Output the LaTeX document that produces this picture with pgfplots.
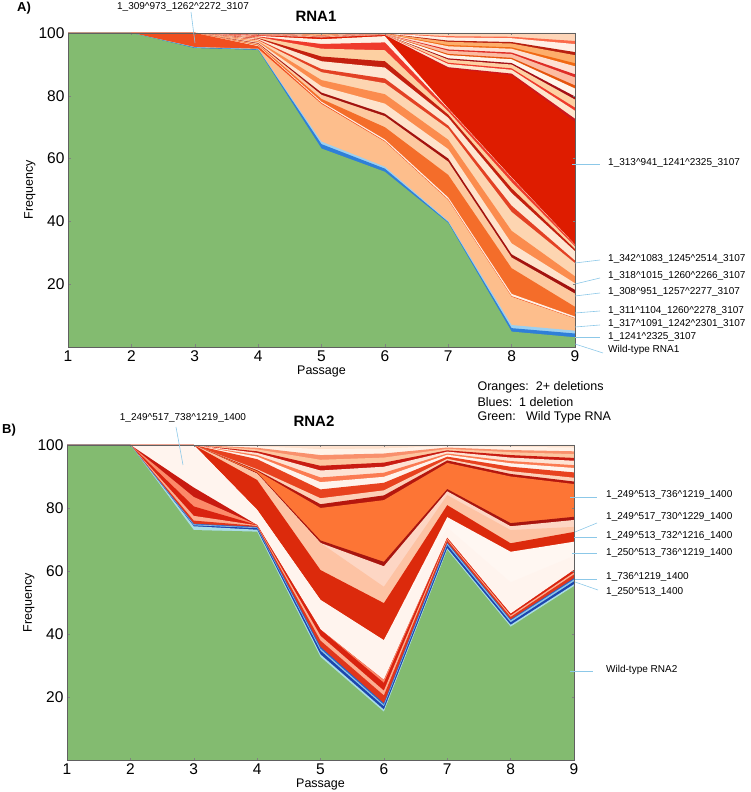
\documentclass[border=0pt]{standalone}
\usepackage{fontspec}
\setmainfont{Liberation Sans}
\usepackage{pgfplots}
\pgfplotsset{compat=1.18}
% colours
\definecolor{wt}{RGB}{131,187,112}
\definecolor{a2}{RGB}{47,127,216}
\definecolor{a3}{RGB}{157,208,240}
\definecolor{a4}{RGB}{253,190,140}
\definecolor{a5}{RGB}{240,78,30}
\definecolor{a6}{RGB}{255,241,230}
\definecolor{a7}{RGB}{244,109,42}
\definecolor{a8}{RGB}{253,201,160}
\definecolor{a9}{RGB}{163,19,15}
\definecolor{a10}{RGB}{254,227,204}
\definecolor{a11}{RGB}{251,140,78}
\definecolor{a12}{RGB}{253,213,177}
\definecolor{a13}{RGB}{227,65,36}
\definecolor{a14}{RGB}{254,230,210}
\definecolor{a15}{RGB}{196,32,15}
\definecolor{a16}{RGB}{253,208,162}
\definecolor{a17}{RGB}{239,59,44}
\definecolor{a18}{RGB}{255,240,228}
\definecolor{a19}{RGB}{222,28,0}
% top fan of RNA1 (r = thin red, l = light)
\definecolor{r1}{RGB}{203,24,29}
\definecolor{l1}{RGB}{254,230,206}
\definecolor{r2}{RGB}{239,59,44}
\definecolor{l2}{RGB}{253,208,162}
\definecolor{r3}{RGB}{165,15,21}
\definecolor{l3}{RGB}{255,245,235}
\definecolor{r4}{RGB}{230,85,13}
\definecolor{l4}{RGB}{252,187,161}
\definecolor{r5}{RGB}{222,45,38}
\definecolor{l5}{RGB}{254,224,210}
\definecolor{r6}{RGB}{241,105,19}
\definecolor{l6}{RGB}{253,174,107}
\definecolor{r7}{RGB}{184,32,15}
\definecolor{l7}{RGB}{255,240,230}
\definecolor{r8}{RGB}{251,106,74}
\definecolor{l8}{RGB}{253,213,184}
% RNA2
\definecolor{b2}{RGB}{169,221,230}
\definecolor{b3}{RGB}{28,70,174}
\definecolor{b4}{RGB}{140,196,232}
\definecolor{b5}{RGB}{42,100,200}
\definecolor{b6}{RGB}{224,54,27}
\definecolor{b7}{RGB}{252,174,145}
\definecolor{b8}{RGB}{217,35,15}
\definecolor{b9}{RGB}{252,138,106}
\definecolor{b10}{RGB}{200,26,16}
\definecolor{b11}{RGB}{255,244,238}
\definecolor{b12}{RGB}{255,247,242}
\definecolor{b13}{RGB}{220,42,12}
\definecolor{b14}{RGB}{253,195,164}
\definecolor{b15}{RGB}{253,214,196}
\definecolor{b16}{RGB}{168,21,15}
\definecolor{b17}{RGB}{253,117,53}
\definecolor{b18}{RGB}{181,23,14}
\definecolor{t1}{RGB}{253,208,184}
\definecolor{t2}{RGB}{232,66,31}
\definecolor{t3}{RGB}{255,243,236}
\definecolor{t4}{RGB}{251,123,82}
\definecolor{t5}{RGB}{254,227,212}
\definecolor{t6}{RGB}{201,28,18}
\definecolor{t7}{RGB}{253,198,160}
\definecolor{t8}{RGB}{249,144,108}
\definecolor{t9}{RGB}{255,242,232}
\definecolor{t10}{RGB}{253,224,204}
\definecolor{pointer}{RGB}{140,200,232}
\newcommand{\ca}{\textasciicircum}
\newcommand{\lab}{\fontsize{10}{12}\selectfont}
\pgfplotsset{rnaax/.style={
  scale only axis, width=507pt, anchor=south west,
  xmin=1, xmax=9, ymin=0, ymax=100,
  xtick={1,...,9}, ytick={20,40,60,80,100},
  axis line style={draw=gray!75!black, line width=0.5pt},
  tick style={draw=gray, line width=0.4pt}, major tick length=2.5pt, tick align=inside,
  ticklabel style={font=\fontsize{15.5}{17}\selectfont},
  /pgf/number format/assume math mode=true,
  xlabel=Passage, ylabel=Frequency,
  label style={font=\fontsize{12.5}{14}\selectfont},
  xlabel style={at={(axis description cs:0.5,-0.078)}, anchor=center},
  ylabel style={at={(axis description cs:-0.075,0.5)}, anchor=center},
  axis on top,
  ly/.style={fill=##1, draw=none, mark=none},
}}
\begin{document}
\begin{tikzpicture}
\path[use as bounding box] (0pt,0pt) rectangle (750pt,792pt);
% ---------------- Panel A : RNA1 ----------------
\begin{axis}[rnaax, at={(68pt,445pt)}, height=314pt]
\addplot[ly=l8] coordinates {(1,100)(2,100)(3,100)(4,100)(5,100)(6,100)(7,100)(8,100)(9,100)} \closedcycle;
\addplot[ly=r8] coordinates {(1,100)(2,100)(3,100)(4,99.93)(5,99.87)(6,99.94)(7,98.98)(8,98.79)(9,97.45)} \closedcycle;
\addplot[ly=l7] coordinates {(1,100)(2,100)(3,100)(4,99.9)(5,99.81)(6,99.91)(7,98.59)(8,98.33)(9,96.46)} \closedcycle;
\addplot[ly=r7] coordinates {(1,100)(2,100)(3,100)(4,99.83)(5,99.68)(6,99.85)(7,97.57)(8,97.12)(9,93.92)} \closedcycle;
\addplot[ly=l6] coordinates {(1,100)(2,100)(3,100)(4,99.8)(5,99.63)(6,99.83)(7,97.18)(8,96.65)(9,92.93)} \closedcycle;
\addplot[ly=r6] coordinates {(1,100)(2,100)(3,100)(4,99.73)(5,99.49)(6,99.76)(7,96.16)(8,95.44)(9,90.38)} \closedcycle;
\addplot[ly=l5] coordinates {(1,100)(2,100)(3,100)(4,99.7)(5,99.44)(6,99.74)(7,95.76)(8,94.98)(9,89.39)} \closedcycle;
\addplot[ly=r5] coordinates {(1,100)(2,100)(3,100)(4,99.63)(5,99.3)(6,99.67)(7,94.75)(8,93.77)(9,86.84)} \closedcycle;
\addplot[ly=l4] coordinates {(1,100)(2,100)(3,100)(4,99.6)(5,99.25)(6,99.65)(7,94.35)(8,93.3)(9,85.85)} \closedcycle;
\addplot[ly=r4] coordinates {(1,100)(2,100)(3,100)(4,99.53)(5,99.12)(6,99.59)(7,93.33)(8,92.09)(9,83.3)} \closedcycle;
\addplot[ly=l3] coordinates {(1,100)(2,100)(3,100)(4,99.5)(5,99.06)(6,99.56)(7,92.94)(8,91.63)(9,82.31)} \closedcycle;
\addplot[ly=r3] coordinates {(1,100)(2,100)(3,100)(4,99.43)(5,98.93)(6,99.5)(7,91.92)(8,90.42)(9,79.77)} \closedcycle;
\addplot[ly=l2] coordinates {(1,100)(2,100)(3,100)(4,99.4)(5,98.88)(6,99.48)(7,91.53)(8,89.95)(9,78.78)} \closedcycle;
\addplot[ly=r2] coordinates {(1,100)(2,100)(3,100)(4,99.33)(5,98.74)(6,99.41)(7,90.51)(8,88.74)(9,76.23)} \closedcycle;
\addplot[ly=l1] coordinates {(1,100)(2,100)(3,100)(4,99.3)(5,98.69)(6,99.39)(7,90.11)(8,88.28)(9,75.24)} \closedcycle;
\addplot[ly=r1] coordinates {(1,100)(2,100)(3,100)(4,99.23)(5,98.55)(6,99.32)(7,89.1)(8,87.07)(9,72.69)} \closedcycle;
\addplot[ly=a19] coordinates {(1,100)(2,100)(3,100)(4,99.2)(5,98.5)(6,99.3)(7,88.7)(8,86.6)(9,71.7)} \closedcycle;
\addplot[ly=a18] coordinates {(1,100)(2,100)(3,100)(4,99.1)(5,98.0)(6,99.0)(7,76.0)(8,54.0)(9,32.6)} \closedcycle;
\addplot[ly=a17] coordinates {(1,100)(2,100)(3,100)(4,98.9)(5,96.5)(6,97.0)(7,75.8)(8,53.8)(9,32.5)} \closedcycle;
\addplot[ly=a16] coordinates {(1,100)(2,100)(3,100)(4,98.7)(5,95.0)(6,94.5)(7,75.0)(8,52.5)(9,32.0)} \closedcycle;
\addplot[ly=a15] coordinates {(1,100)(2,100)(3,100)(4,98.4)(5,92.5)(6,91.0)(7,74.0)(8,50.5)(9,31.2)} \closedcycle;
\addplot[ly=a14] coordinates {(1,100)(2,100)(3,100)(4,98.2)(5,91.0)(6,89.0)(7,73.0)(8,49.0)(9,30.5)} \closedcycle;
\addplot[ly=a13] coordinates {(1,100)(2,100)(3,100)(4,97.9)(5,88.5)(6,85.5)(7,70.5)(8,45.0)(9,27.5)} \closedcycle;
\addplot[ly=a12] coordinates {(1,100)(2,100)(3,100)(4,97.7)(5,87.5)(6,84.0)(7,69.5)(8,43.0)(9,26.7)} \closedcycle;
\addplot[ly=a11] coordinates {(1,100)(2,100)(3,100)(4,97.4)(5,85.0)(6,80.5)(7,66.0)(8,37.0)(9,22.5)} \closedcycle;
\addplot[ly=a10] coordinates {(1,100)(2,100)(3,100)(4,97.1)(5,83.0)(6,77.5)(7,63.0)(8,33.0)(9,20.3)} \closedcycle;
\addplot[ly=a9] coordinates {(1,100)(2,100)(3,100)(4,96.8)(5,81.0)(6,74.3)(7,60.0)(8,29.5)(9,18.2)} \closedcycle;
\addplot[ly=a8] coordinates {(1,100)(2,100)(3,100)(4,96.6)(5,80.3)(6,73.5)(7,59.0)(8,28.5)(9,17.0)} \closedcycle;
\addplot[ly=a7] coordinates {(1,100)(2,100)(3,100)(4,96.3)(5,79.0)(6,70.0)(7,54.8)(8,25.1)(9,12.8)} \closedcycle;
\addplot[ly=a6] coordinates {(1,100)(2,100)(3,100)(4,96.0)(5,78.1)(6,66.1)(7,47.6)(8,16.9)(9,9.7)} \closedcycle;
\addplot[ly=a5] coordinates {(1,100)(2,100)(3,100)(4,95.8)(5,77.7)(6,65.6)(7,47.0)(8,16.2)(9,9.2)} \closedcycle;
\addplot[ly=a4] coordinates {(1,100)(2,100)(3,95.5)(4,95.0)(5,77.4)(6,65.4)(7,46.8)(8,16.0)(9,9.1)} \closedcycle;
\addplot[ly=a3] coordinates {(1,100)(2,100)(3,95.5)(4,94.9)(5,65.4)(6,57.4)(7,40.1)(8,7.0)(9,5.2)} \closedcycle;
\addplot[ly=a2] coordinates {(1,100)(2,100)(3,95.4)(4,94.8)(5,64.6)(6,56.8)(7,39.8)(8,6.0)(9,4.3)} \closedcycle;
\addplot[ly=wt] coordinates {(1,100)(2,100)(3,95.2)(4,94.6)(5,63.2)(6,55.8)(7,39.5)(8,4.9)(9,3.1)} \closedcycle;
\end{axis}
% ---------------- Panel B : RNA2 ----------------
\begin{axis}[rnaax, at={(67pt,32pt)}, height=315pt]
\addplot[ly=t10] coordinates {(1,100)(2,100)(3,100)(4,100)(5,100)(6,100)(7,100)(8,100)(9,100)} \closedcycle;
\addplot[ly=t9] coordinates {(1,100)(2,100)(3,100)(4,99.6)(5,98.7)(6,98.9)(7,99.7)(8,99.4)(9,99.2)} \closedcycle;
\addplot[ly=t8] coordinates {(1,100)(2,100)(3,100)(4,99.1)(5,96.8)(6,97.3)(7,99.2)(8,98.4)(9,98.0)} \closedcycle;
\addplot[ly=t7] coordinates {(1,100)(2,100)(3,100)(4,98.6)(5,95.3)(6,96.0)(7,98.8)(8,97.7)(9,97.1)} \closedcycle;
\addplot[ly=t6] coordinates {(1,100)(2,100)(3,100)(4,98.0)(5,93.4)(6,94.4)(7,98.3)(8,96.8)(9,95.9)} \closedcycle;
\addplot[ly=t5] coordinates {(1,100)(2,100)(3,100)(4,97.5)(5,91.9)(6,93.1)(7,97.9)(8,96.0)(9,95.0)} \closedcycle;
\addplot[ly=t4] coordinates {(1,100)(2,100)(3,100)(4,96.8)(5,89.7)(6,91.2)(7,97.3)(8,94.9)(9,93.6)} \closedcycle;
\addplot[ly=t3] coordinates {(1,100)(2,100)(3,100)(4,96.3)(5,88.2)(6,89.9)(7,96.9)(8,94.2)(9,92.7)} \closedcycle;
\addplot[ly=t2] coordinates {(1,100)(2,100)(3,100)(4,95.5)(5,85.9)(6,88.0)(7,96.3)(8,93.1)(9,91.3)} \closedcycle;
\addplot[ly=t1] coordinates {(1,100)(2,100)(3,100)(4,92.3)(5,83.1)(6,85.6)(7,95.6)(8,91.7)(9,89.6)} \closedcycle;
\addplot[ly=b18] coordinates {(1,100)(2,100)(3,100)(4,92.0)(5,81.2)(6,84.0)(7,95.1)(8,90.8)(9,88.4)} \closedcycle;
\addplot[ly=b17] coordinates {(1,100)(2,100)(3,100)(4,91.7)(5,80.0)(6,82.5)(7,94.3)(8,90.0)(9,87.6)} \closedcycle;
\addplot[ly=b16] coordinates {(1,100)(2,100)(3,100)(4,91.2)(5,69.7)(6,62.9)(7,86.0)(8,75.2)(9,77.2)} \closedcycle;
\addplot[ly=b15] coordinates {(1,100)(2,100)(3,100)(4,90.9)(5,68.9)(6,61.5)(7,85.3)(8,74.2)(9,76.2)} \closedcycle;
\addplot[ly=b14] coordinates {(1,100)(2,100)(3,100)(4,90.9)(5,68.9)(6,55.0)(7,84.1)(8,73.0)(9,74.0)} \closedcycle;
\addplot[ly=b13] coordinates {(1,100)(2,100)(3,100)(4,88.9)(5,60.3)(6,49.8)(7,80.9)(8,68.8)(9,72.4)} \closedcycle;
\addplot[ly=b12] coordinates {(1,100)(2,100)(3,100)(4,79.4)(5,50.8)(6,38.0)(7,77.1)(8,66.1)(9,69.3)} \closedcycle;
\addplot[ly=b11] coordinates {(1,100)(2,100)(3,100)(4,79.4)(5,50.8)(6,38.0)(7,73.8)(8,56.4)(9,64.8)} \closedcycle;
\addplot[ly=b10] coordinates {(1,100)(2,100)(3,86.5)(4,74.6)(5,41.4)(6,25.4)(7,70.5)(8,46.4)(9,60.3)} \closedcycle;
\addplot[ly=b9] coordinates {(1,100)(2,100)(3,83.5)(4,74.6)(5,41.4)(6,25.4)(7,70.5)(8,46.4)(9,60.3)} \closedcycle;
\addplot[ly=b8] coordinates {(1,100)(2,100)(3,80.5)(4,74.6)(5,41.4)(6,24.5)(7,70.5)(8,46.4)(9,60.3)} \closedcycle;
\addplot[ly=b7] coordinates {(1,100)(2,100)(3,77.5)(4,74.5)(5,39.4)(6,22.0)(7,70.2)(8,45.9)(9,59.5)} \closedcycle;
\addplot[ly=b6] coordinates {(1,100)(2,100)(3,76.0)(4,74.3)(5,37.9)(6,20.5)(7,69.8)(8,45.4)(9,58.9)} \closedcycle;
\addplot[ly=b5] coordinates {(1,100)(2,100)(3,75.0)(4,74.0)(5,35.9)(6,18.0)(7,69.0)(8,44.6)(9,57.7)} \closedcycle;
\addplot[ly=b4] coordinates {(1,100)(2,100)(3,74.8)(4,73.8)(5,35.3)(6,17.5)(7,68.7)(8,44.3)(9,57.3)} \closedcycle;
\addplot[ly=b3] coordinates {(1,100)(2,100)(3,74.5)(4,73.6)(5,34.7)(6,17.0)(7,68.2)(8,43.7)(9,56.7)} \closedcycle;
\addplot[ly=b2] coordinates {(1,100)(2,100)(3,74.2)(4,73.1)(5,33.5)(6,16.0)(7,67.2)(8,42.9)(9,55.8)} \closedcycle;
\addplot[ly=wt] coordinates {(1,100)(2,100)(3,73.0)(4,72.5)(5,32.7)(6,15.3)(7,66.7)(8,42.3)(9,55.2)} \closedcycle;
\end{axis}
% ---------------- annotations ----------------
\node[font=\bfseries\fontsize{13}{15}\selectfont] at (24pt,784pt) {A)};
\node[font=\bfseries\fontsize{15}{17}\selectfont] at (316pt,776pt) {RNA1};
\node[font=\lab] at (183pt,785pt) {1\_309\ca 973\_1262\ca 2272\_3107};
\draw[pointer, line width=0.6pt] (191pt,780pt) -- (195pt,749pt);
\node[font=\bfseries\fontsize{13}{15}\selectfont] at (9pt,362pt) {B)};
\node[font=\bfseries\fontsize{15}{17}\selectfont] at (314pt,371pt) {RNA2};
\node[font=\lab] at (183pt,374pt) {1\_249\ca 517\_738\ca 1219\_1400};
\draw[pointer, line width=0.6pt] (176pt,365pt) -- (183pt,327pt);
% legend text
\node[font=\fontsize{12.5}{15}\selectfont, anchor=west] at (474pt,405pt) {Oranges:\ \ 2+ deletions};
\node[font=\fontsize{12.5}{15}\selectfont, anchor=west] at (474pt,390pt) {Blues:\ \ 1 deletion};
\node[font=\fontsize{12.5}{15}\selectfont, anchor=west] at (474pt,375pt) {Green:\ \ \ Wild Type RNA};
% right labels
\begin{scope}[every node/.style={font=\lab, anchor=west, inner sep=1pt}]
\node at (607pt,629pt) {1\_313\ca 941\_1241\ca 2325\_3107};
\node at (607pt,533pt) {1\_342\ca 1083\_1245\ca 2514\_3107};
\node at (607pt,516pt) {1\_318\ca 1015\_1260\ca 2266\_3107};
\node at (607pt,500pt) {1\_308\ca 951\_1257\ca 2277\_3107};
\node at (607pt,481pt) {1\_311\ca 1104\_1260\ca 2278\_3107};
\node at (607pt,468pt) {1\_317\ca 1091\_1242\ca 2301\_3107};
\node at (607pt,455pt) {1\_1241\ca 2325\_3107};
\node at (607pt,442pt) {Wild-type RNA1};
\node at (605pt,297pt) {1\_249\ca 513\_736\ca 1219\_1400};
\node at (605pt,275pt) {1\_249\ca 517\_730\ca 1229\_1400};
\node at (605pt,256pt) {1\_249\ca 513\_732\ca 1216\_1400};
\node at (605pt,239pt) {1\_250\ca 513\_736\ca 1219\_1400};
\node at (605pt,215pt) {1\_736\ca 1219\_1400};
\node at (605pt,200pt) {1\_250\ca 513\_1400};
\node at (605pt,122pt) {Wild-type RNA2};
\end{scope}
\begin{scope}[pointer, line width=0.6pt]
\draw (572pt,628pt) -- (600pt,628pt);
\draw (575pt,529pt) -- (600pt,532pt);
\draw (575pt,508pt) -- (600pt,514pt);
\draw (575pt,496pt) -- (600pt,499pt);
\draw (575pt,479pt) -- (600pt,481pt);
\draw (575pt,465pt) -- (600pt,467pt);
\draw (575pt,455pt) -- (600pt,455pt);
\draw (575pt,448pt) -- (603pt,439pt);
\draw (570pt,295pt) -- (597pt,295pt);
\draw (575pt,260pt) -- (597pt,269pt);
\draw (574pt,255pt) -- (597pt,255pt);
\draw (572pt,239pt) -- (597pt,239pt);
\draw (575pt,213pt) -- (597pt,213pt);
\draw (575pt,210pt) -- (598pt,202pt);
\draw (570pt,121pt) -- (593pt,121pt);
\end{scope}
\end{tikzpicture}
\end{document}
